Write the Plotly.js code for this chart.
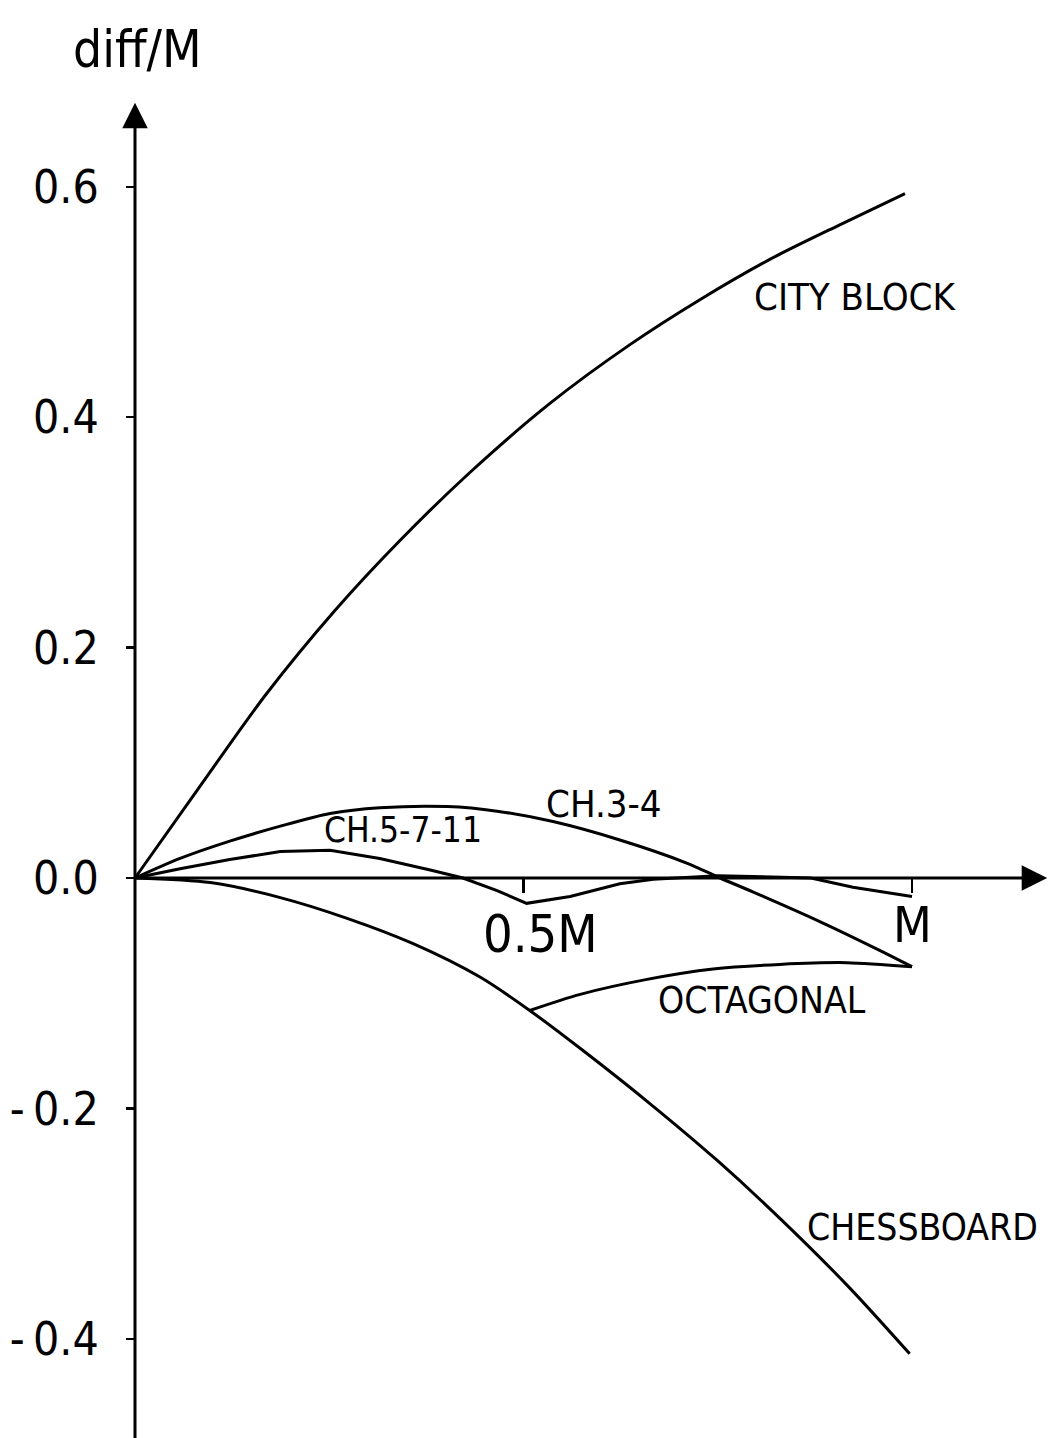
<!DOCTYPE html>
<html>
<head>
<meta charset="utf-8">
<script src="https://cdn.plot.ly/plotly-3.0.1.min.js"></script>
<style>html,body{margin:0;padding:0;background:#fff;}#chart{width:1061px;height:1438px;}</style>
</head>
<body>
<div id="chart"></div>
<script>
// ---- data ----
const xCity = [0, 0.084, 0.167, 0.257, 0.341, 0.431, 0.534, 0.637, 0.727, 0.817, 0.907, 0.991];
const yCity = [0, 0.080, 0.158, 0.232, 0.293, 0.352, 0.412, 0.463, 0.502, 0.537, 0.567, 0.594];

const xChess = [0, 0.097, 0.187, 0.273, 0.358, 0.444, 0.508, 0.577, 0.663, 0.749, 0.834, 0.920, 0.997];
const yChess = [0, -0.004, -0.017, -0.035, -0.057, -0.086, -0.115, -0.150, -0.196, -0.245, -0.298, -0.356, -0.413];

const xOct = [0.508, 0.573, 0.659, 0.744, 0.830, 0.916, 1.0];
const yOct = [-0.115, -0.101, -0.088, -0.079, -0.075, -0.0735, -0.077];

const xCh34 = [0, 0.058, 0.122, 0.187, 0.251, 0.315, 0.402, 0.466, 0.538, 0.624, 0.710, 0.753, 0.795, 0.882, 0.959, 1.0];
const yCh34 = [0, 0.017, 0.032, 0.045, 0.056, 0.061, 0.062, 0.058, 0.049, 0.033, 0.013, 0.0, -0.012, -0.038, -0.063, -0.077];

const xCh5711 = [0, 0.058, 0.122, 0.187, 0.251, 0.315, 0.380, 0.422, 0.466, 0.504, 0.560, 0.624, 0.667, 0.75, 0.87, 0.924, 1.0];
const yCh5711 = [0, 0.008, 0.016, 0.023, 0.024, 0.017, 0.007, 0.0, -0.011, -0.022, -0.016, -0.005, -0.001, 0.002, 0.0, -0.008, -0.016];

const yTickVals = [-0.4, -0.2, 0, 0.2, 0.4, 0.6];
const yTickText = ['-\u20090.4', '-\u20090.2', '0.0', '0.2', '0.4', '0.6'];
const xTickVals = [0.5, 1];
const xTickText = ['0.5M', 'M'];

const curveLabels = [
  {text: 'CITY BLOCK', x: 0.927, y: 0.504, size: 38},
  {text: 'CH.5-7-11', x: 0.345, y: 0.042, size: 35},
  {text: 'CH.3-4', x: 0.604, y: 0.064, size: 38},
  {text: 'OCTAGONAL', x: 0.807, y: -0.106, size: 37},
  {text: 'CHESSBOARD', x: 1.013, y: -0.303, size: 37}
];

// ---- chart ----
const cond = '"DejaVu Sans Condensed", "Liberation Sans Narrow", "DejaVu Sans", sans-serif';
const ink = '#000';
function line(x, y, shape) {
  return {x: x, y: y, type: 'scatter', mode: 'lines', hoverinfo: 'skip',
          line: {color: ink, width: 3, shape: shape || 'spline', smoothing: 0.8}};
}
const traces = [
  line(xCity, yCity),
  line(xChess, yChess),
  line(xOct, yOct),
  line(xCh34, yCh34),
  line(xCh5711, yCh5711, 'linear')
];

const ann = [];
// axes with arrows
ann.push({x: 0, y: 0.673, ax: 0, ay: -0.49, xref: 'x', yref: 'y', axref: 'x', ayref: 'y',
          text: '', showarrow: true, arrowhead: 2, arrowsize: 1.7, arrowwidth: 3, arrowcolor: ink});
ann.push({x: 1.174, y: 0, ax: 0, ay: 0, xref: 'x', yref: 'y', axref: 'x', ayref: 'y',
          text: '', showarrow: true, arrowhead: 2, arrowsize: 1.7, arrowwidth: 3, arrowcolor: ink});
// y axis title
ann.push({x: 0.003, y: 0.719, xref: 'x', yref: 'y', text: 'diff/M', showarrow: false,
          font: {family: cond, size: 51, color: ink}});
// x tick labels
ann.push({x: 0.5225, y: -0.049, xref: 'x', yref: 'y', text: xTickText[0], showarrow: false,
          font: {family: cond, size: 52, color: ink}});
ann.push({x: 1.0, y: -0.041, xref: 'x', yref: 'y', text: xTickText[1], showarrow: false,
          font: {family: cond, size: 50, color: ink}});
curveLabels.forEach(l => ann.push({x: l.x, y: l.y, xref: 'x', yref: 'y', text: l.text, showarrow: false,
          font: {family: cond, size: l.size, color: ink}}));

const layout = {
  width: 1061, height: 1438,
  margin: {l: 0, r: 0, t: 0, b: 0},
  paper_bgcolor: '#fff', plot_bgcolor: '#fff',
  showlegend: false,
  xaxis: {range: [-135/777, (1061-135)/777], anchor: 'free', position: (1438-878)/1438,
          showgrid: false, zeroline: false, showline: false,
          tickvals: xTickVals, ticktext: xTickText, showticklabels: false,
          ticks: 'outside', ticklen: 14, tickwidth: 2.5, tickcolor: ink},
  yaxis: {range: [-(1438-878)/1152, 878/1152], anchor: 'free', position: 135/1061,
          showgrid: false, zeroline: false, showline: false,
          tickvals: yTickVals, ticktext: yTickText,
          ticks: 'outside', ticklen: 9, tickwidth: 2.5, tickcolor: ink,
          ticklabelstandoff: 18,
          tickfont: {family: cond, size: 46, color: ink}},
  annotations: ann
};

Plotly.newPlot('chart', traces, layout, {staticPlot: true, displayModeBar: false});
</script>
</body>
</html>
